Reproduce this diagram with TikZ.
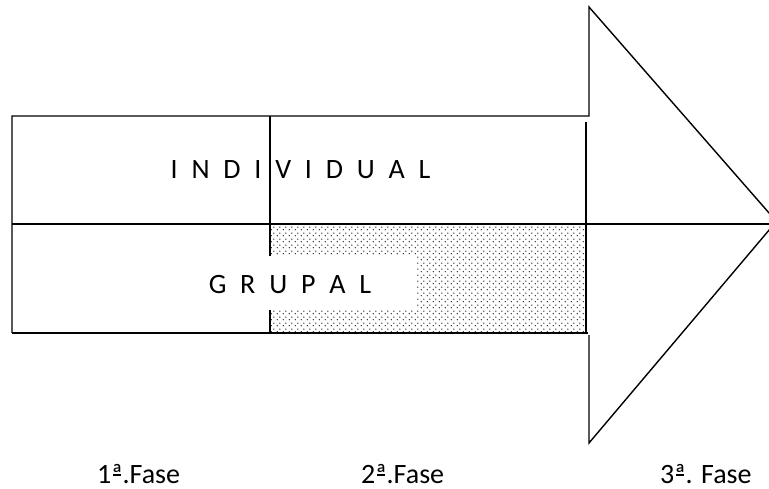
\documentclass[tikz,border=0pt]{standalone}
\usepackage{fontspec}
\setmainfont{Carlito}
\usetikzlibrary{patterns}
\pgfdeclarepatternformonly{mydots}{\pgfqpoint{0pt}{0pt}}{\pgfqpoint{6pt}{6pt}}{\pgfqpoint{6pt}{6pt}}{%
  \pgfpathcircle{\pgfqpoint{1.5pt}{1.5pt}}{0.75pt}%
  \pgfpathcircle{\pgfqpoint{4.5pt}{4.5pt}}{0.75pt}%
  \pgfusepath{fill}}
\newcommand\ordfa{\setbox0\hbox{ª}\rlap{\copy0}\rlap{\kern0.05em\raisebox{0.25em}{\rule{\dimexpr\wd0-0.1em\relax}{0.055em}}}\kern\wd0\relax}
\tikzset{
  thin line/.style={line width=1.4pt, line join=miter},
  thick line/.style={line width=2.3pt},
  txt/.style={inner sep=0pt, text depth=0pt, font=\fontsize{28}{32}\selectfont, anchor=base west},
  spaced/.style={execute at begin node={\spaceskip=13.8pt\relax}}
}
\begin{document}
\begin{tikzpicture}[x=1pt,y=-1pt]
\useasboundingbox (0,0) rectangle (769,489);
\clip (0,0) rectangle (769,489);
% dotted area
\fill[pattern=mydots, pattern color=black] (270,224) rectangle (586,333);
% white box behind GRUPAL
\fill[white] (180,256.5) rectangle (416.5,310.5);
% outline of arrow
\coordinate (tip) at (776.4,221.4);
\draw[thin line] (12,333) -- (12,116) -- (589,116) -- (589,7) -- (tip);
\draw[thin line] (tip) -- (589,443) -- (589,335);
\draw[thick line] (270,333) -- (588,333);
\draw[thin line] (12,333) -- (270,333);
% middle line
\draw[thin line] (12,224) -- (769,224);
% vertical dividers
\draw[thin line] (270,116) -- (270,224);
\draw[thick line] (270,224) -- (270,256.5);
\draw[thick line] (270,310.5) -- (270,334);
\draw[thin line] (586,122) -- (586,224);
\draw[thick line] (586,224) -- (586,334);
% texts
\node[txt, spaced] (ind) at (170.5,179) {I N D I V I D U A L};
\node[txt, spaced] (gru) at (208.6,294) {G R U P A L};
\node[txt] (f1) at (97,483) {1\ordfa.Fase};
\node[txt] (f2) at (361,483) {2\ordfa.Fase};
\node[txt] (f3) at (660,483) {3\ordfa. Fase};
\end{tikzpicture}
\end{document}
